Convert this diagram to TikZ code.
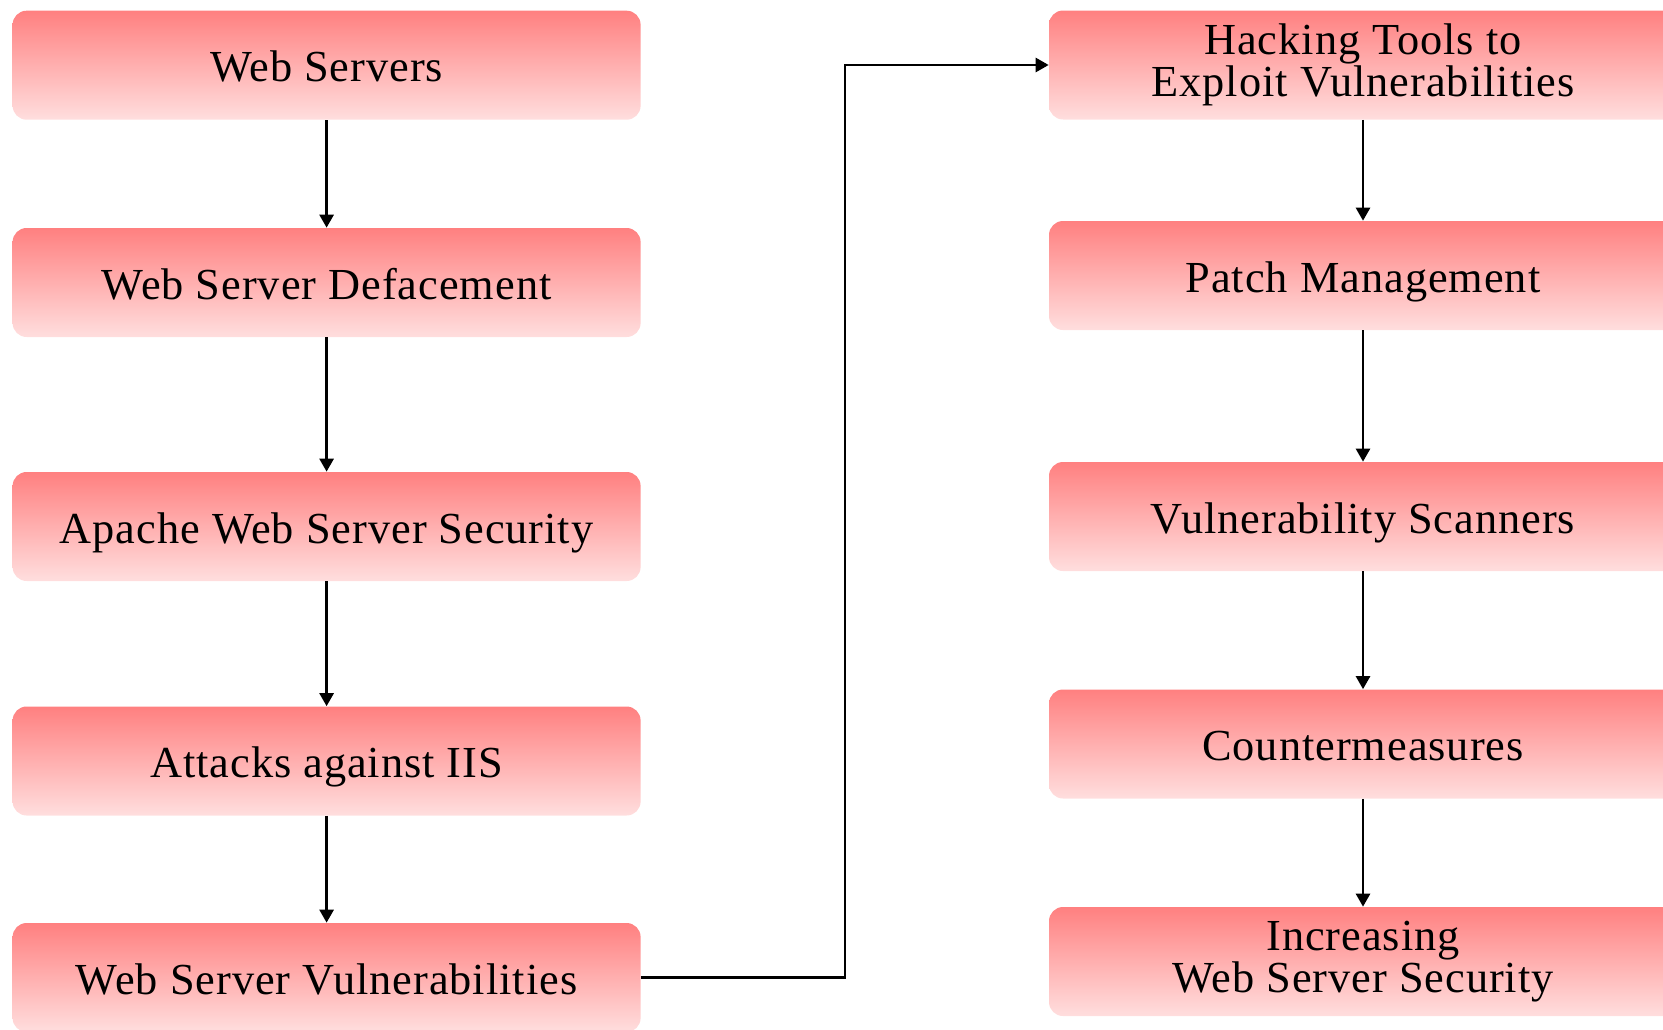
\documentclass[tikz,border=0pt]{standalone}
\usepackage{fontspec}
\setmainfont[LetterSpace=2.2]{Liberation Serif}
\usetikzlibrary{arrows.meta}

\definecolor{topicTop}{RGB}{255,128,128}
\definecolor{topicBottom}{RGB}{255,222,222}

\tikzset{
  topic/.style={
    rectangle, rounded corners=8.4pt,
    minimum width=376.8pt, minimum height=65.4pt,
    inner sep=0pt, align=center,
    top color=topicTop, bottom color=topicBottom, draw=none,
    font=\fontsize{26.6pt}{25pt}\selectfont
  },
  % one-line labels sit on a fixed baseline below the box centre
  oneline/.style={topic, text height=19.8pt, text depth=0pt},
  flow/.style={
    draw=black, line width=1.6pt,
    -{Triangle[length=7.8pt,width=8.4pt]}
  }
}

\begin{document}
\begin{tikzpicture}[x=0.6pt,y=-0.6pt]
  \clip (0,0) rectangle (1663,1029);

  % left column
  \node[oneline] (ws)     at (326.6,65.2)  {Web Servers};
  \node[oneline] (wsd)    at (326.6,282.5) {Web Server Defacement};
  \node[oneline] (apache) at (326.6,526.5) {Apache Web Server Security};
  \node[oneline] (iis)    at (326.6,761)   {Attacks against IIS};
  \node[oneline] (vuln)   at (326.6,977.5) {Web Server Vulnerabilities};

  % right column
  \node[topic]   (tools)   at (1363,65)    {Hacking Tools to\\Exploit Vulnerabilities};
  \node[oneline] (patch)   at (1363,275.5) {Patch Management};
  \node[oneline] (scan)    at (1363,516.5) {Vulnerability Scanners};
  \node[oneline] (counter) at (1363,744)   {Countermeasures};
  \node[topic]   (incr)    at (1363,961.5) {Increasing\\Web Server Security};

  % vertical runs inside each column
  \draw[flow] (ws) -- (wsd);
  \draw[flow] (wsd) -- (apache);
  \draw[flow] (apache) -- (iis);
  \draw[flow] (iis) -- (vuln);

  \draw[flow] (tools) -- (patch);
  \draw[flow] (patch) -- (scan);
  \draw[flow] (scan) -- (counter);
  \draw[flow] (counter) -- (incr);

  % link from the left column to the right column
  \coordinate (bend) at (845,500);
  \draw[flow] (vuln.east) -- (vuln.east -| bend) |- (tools.west);
\end{tikzpicture}
\end{document}
